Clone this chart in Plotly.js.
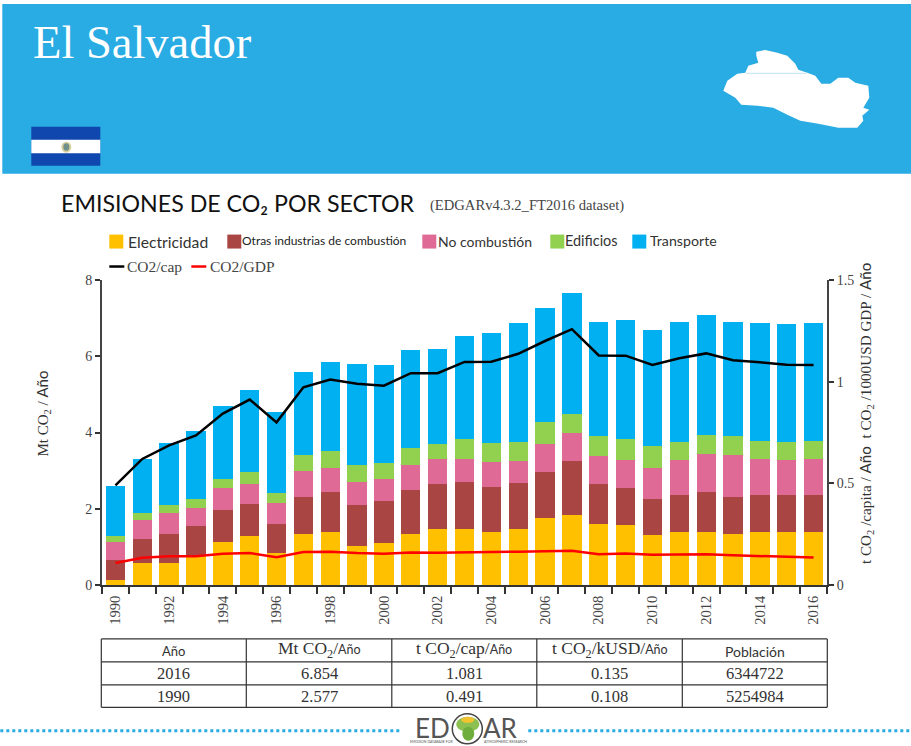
<!DOCTYPE html>
<html><head><meta charset="utf-8">
<script src="https://cdn.plot.ly/plotly-3.0.1.min.js"></script>
<style>html,body{margin:0;padding:0;background:#fff}#c{width:911px;height:746px}</style></head>
<body><div id="c"></div>
<script>
const years=[1990,1991,1992,1993,1994,1995,1996,1997,1998,1999,2000,2001,2002,2003,2004,2005,2006,2007,2008,2009,2010,2011,2012,2013,2014,2015,2016];
const electricidad=[.13,.59,.59,.79,1.13,1.29,.85,1.33,1.39,1.03,1.09,1.34,1.46,1.48,1.40,1.46,1.76,1.83,1.61,1.58,1.31,1.40,1.40,1.33,1.38,1.38,1.38];
const otras=[.52,.61,.76,.76,.85,.84,.74,.97,1.05,1.08,1.11,1.16,1.19,1.22,1.17,1.22,1.21,1.43,1.03,.97,.94,.96,1.03,.98,.98,.98,.98];
const noCombustion=[.48,.51,.53,.47,.57,.53,.55,.68,.62,.59,.57,.64,.65,.61,.65,.58,.72,.72,.75,.74,.81,.91,1.00,1.11,.94,.91,.94];
const edificios=[.16,.17,.21,.23,.24,.31,.28,.42,.46,.44,.44,.46,.40,.52,.51,.50,.59,.50,.53,.55,.58,.49,.50,.48,.48,.48,.48];
const transporte=[1.30,1.43,1.64,1.78,1.90,2.15,2.13,2.18,2.33,2.65,2.56,2.57,2.50,2.71,2.87,3.10,2.99,3.18,2.99,3.10,3.05,3.15,3.16,3.01,3.10,3.10,3.10];
const co2cap=[.49,.62,.687,.736,.843,.912,.80,.972,1.011,.99,.98,1.042,1.042,1.097,1.098,1.137,1.2,1.258,1.129,1.128,1.082,1.115,1.139,1.105,1.095,1.083,1.082];
const co2gdp=[.108,.134,.141,.142,.154,.157,.137,.162,.164,.157,.154,.16,.159,.162,.162,.164,.167,.169,.151,.155,.149,.149,.151,.146,.142,.137,.135];
const tickYears=[1990,1992,1994,1996,1998,2000,2002,2004,2006,2008,2010,2012,2014,2016];
const ANO="<span style='font-family:Lato;font-size:12.5px'>Año</span>";
const tableHead=["Año","Mt CO<sub>2</sub>/"+ANO,"t CO<sub>2</sub>/cap/"+ANO,"t CO<sub>2</sub>/kUSD/"+ANO,"Población"];
const tableRows=[["2016","6.854","1.081","0.135","6344722"],["1990","2.577","0.491","0.108","5254984"]];

const L=101.7,R=826.7,T=279.5,B=585;
const px=x=>(x-L)/(R-L), py=y=>(B-y)/(B-T);
const SERIF="Liberation Serif", SANS="Lato";
const shapes=[],ann=[];
function rect(x0,y0,x1,y1,fill){shapes.push({type:"rect",xref:"paper",yref:"paper",x0:px(x0),x1:px(x1),y0:py(y1),y1:py(y0),fillcolor:fill,line:{width:0},layer:"above"});}
function circ(x0,y0,x1,y1,fill,line){shapes.push({type:"circle",xref:"paper",yref:"paper",x0:px(x0),x1:px(x1),y0:py(y1),y1:py(y0),fillcolor:fill,line:line||{width:0},layer:"above"});}
function seg(x0,y0,x1,y1,color,w,dash){shapes.push({type:"line",xref:"paper",yref:"paper",x0:px(x0),x1:px(x1),y0:py(y0),y1:py(y1),line:{color:color,width:w,dash:dash||"solid"},layer:"above"});}
function txt(x,y,t,size,color,font,anchor,angle){ann.push({xref:"paper",yref:"paper",x:px(x),y:py(y),text:t,showarrow:false,xanchor:anchor||"left",yanchor:"middle",textangle:angle||0,font:{family:font||SERIF,size:size,color:color||"#333"},borderpad:0,borderwidth:0});}

// header
rect(2,3,911,173,"#29ABE3");
txt(33,42,"El Salvador",46.5,"#ffffff",SERIF);
rect(31,126,100,165,"#0F47AF");
rect(31,139,100,152.5,"#ffffff");
circ(61,141,71,152,"#D9CF9A");
circ(63,142.5,69,150,"#6E8F8A");
const mapPts=[[756,51],[765,49],[777,52],[787,55],[795,63],[798,69],[807,72],[815,75],[821,83],[830,83],[838,77],[848,77],[855,82],[868,85],[869,97],[863,107],[869,109],[862,115],[863,120],[857,127],[838,127],[818,123],[800,120],[787,114],[773,107],[757,105],[741,104],[735,97],[723,90],[727,80],[737,73],[745,72],[748,65],[758,62],[756,55]];
shapes.push({type:"path",xref:"paper",yref:"paper",path:"M"+mapPts.map(p=>px(p[0])+","+py(p[1])).join("L")+"Z",fillcolor:"#ffffff",line:{width:0},layer:"above"});
seg(746,72.5,806,72.5,"#BFE3F6",1);

// titles
txt(61,202,"EMISIONES DE CO₂ POR SECTOR",23.2,"#111",SANS);
txt(430,205,"(EDGARv4.3.2_FT2016 dataset)",14.6,"#444",SERIF);

// legend
const legendBoxes=[[109,"#FFC000"],[227,"#A94543"],[422,"#E06A96"],[550,"#92D14F"],[632,"#00B0F0"]];
legendBoxes.forEach(b=>rect(b[0],234,b[0]+14,248,b[1]));
txt(128,241,"Electricidad",15.7,"#333",SANS);
txt(242,240,"Otras industrias de combustión",12,"#222",SANS);
txt(438,241,"No combustión",14,"#333",SANS);
txt(565,240,"Edificios",14.4,"#333",SANS);
txt(650,240,"Transporte",14.2,"#333",SANS);
seg(109,266,124,266,"#000",2.5);
seg(191,266,206,266,"#f00",2.5);
txt(127,266,"CO2/cap",15.5,"#444",SERIF);
txt(210,266,"CO2/GDP",15.5,"#444",SERIF);

// axis titles
txt(43,413,"Mt CO<sub>2</sub> / <span style='font-family:Lato'>Año</span>",15,"#333",SERIF,"center",-90);
txt(865,413.5,"t CO<sub>2</sub> /capita / <span style='font-family:Lato'>Año</span>  t CO<sub>2</sub> /1000USD GDP / <span style='font-family:Lato'>Año</span>",15.2,"#333",SERIF,"center",-90);

// table
const colX=[101,246,391.5,536.5,682,827], rowY=[639,662,685,707.5];
rowY.forEach(y=>seg(101,y,827,y,"#333",1.2));
colX.forEach(x=>seg(x,639,x,707.5,"#333",1.2));
tableHead.forEach((t,i)=>{const cx=(colX[i]+colX[i+1])/2;
  if(i===0) txt(cx,651,t,13,"#333",SANS,"center");
  else if(i===4) txt(cx,652,t,14,"#333",SANS,"center");
  else txt(cx,650,t,17.5,"#333",SERIF,"center");});
tableRows.forEach((r,j)=>r.forEach((t,i)=>txt((colX[i]+colX[i+1])/2,(rowY[j+1]+rowY[j+2])/2+.5,t,16.5,"#333",SERIF,"center")));

// footer
seg(0,731,401,731,"#29ABE3",3,"dot");
seg(528,731,911,731,"#29ABE3",3,"dot");
txt(415,728,"ED",26,"#555",SANS);
txt(483,728,"AR",26,"#555",SANS);
circ(452,714,482,744,"#ffffff",{color:"#444",width:1.5});
circ(456,717,479,732,"#8CC152");
circ(461,717,474,723,"#F2C230");
circ(462,727,474,741,"#6FAE3C");
txt(410,742,"EMISSION DATABASE FOR",3.5,"#555",SANS);
txt(484,742,"ATMOSPHERIC RESEARCH",3.5,"#555",SANS);

const bar=(y,name,c)=>({type:"bar",x:years,y:y,name:name,marker:{color:c,line:{width:0}},yaxis:"y",xaxis:"x"});
const traces=[
 bar(electricidad,"Electricidad","#FFC000"),
 bar(otras,"Otras industrias de combustión","#A94543"),
 bar(noCombustion,"No combustión","#E06A96"),
 bar(edificios,"Edificios","#92D14F"),
 bar(transporte,"Transporte","#00B0F0"),
 {type:"scatter",mode:"lines",x:years,y:co2cap,name:"CO2/cap",yaxis:"y2",line:{color:"#000",width:2.5}},
 {type:"scatter",mode:"lines",x:years,y:co2gdp,name:"CO2/GDP",yaxis:"y2",line:{color:"#f00",width:2.5}}
];
const axFont={family:SERIF,size:14,color:"#444"};
const layout={width:911,height:746,autosize:false,showlegend:false,barmode:"stack",bargap:.28,
 paper_bgcolor:"#fff",plot_bgcolor:"#fff",
 margin:{l:L,r:911-R,t:T,b:746-B,pad:0},
 xaxis:{type:"linear",range:[1989.5,2016.5],tickmode:"array",tickvals:tickYears,ticktext:tickYears.map(String),tickangle:-90,ticks:"outside",ticklen:3,tickwidth:0,tickcolor:"rgba(0,0,0,0)",
   minor:{tickmode:"linear",tick0:1989.5,dtick:1,ticks:"outside",ticklen:7,tickwidth:2,tickcolor:"#333",showgrid:false},
   showline:true,linecolor:"#333",linewidth:2,showgrid:false,tickfont:{family:SERIF,size:14.5,color:"#444"},zeroline:false},
 yaxis:{range:[0,8],tickvals:[0,2,4,6,8],ticks:"outside",ticklen:5,tickwidth:2,tickcolor:"#333",showline:true,linecolor:"#444",linewidth:2,showgrid:false,zeroline:false,tickfont:axFont},
 yaxis2:{range:[0,1.5],overlaying:"y",side:"right",tickvals:[0,.5,1,1.5],ticktext:["0","0.5","1","1.5"],ticks:"outside",ticklen:5,tickwidth:2,tickcolor:"#333",showline:true,linecolor:"#444",linewidth:2,showgrid:false,zeroline:false,tickfont:axFont},
 shapes:shapes,annotations:ann};
Plotly.newPlot("c",traces,layout,{displayModeBar:false,responsive:false});
</script></body></html>
